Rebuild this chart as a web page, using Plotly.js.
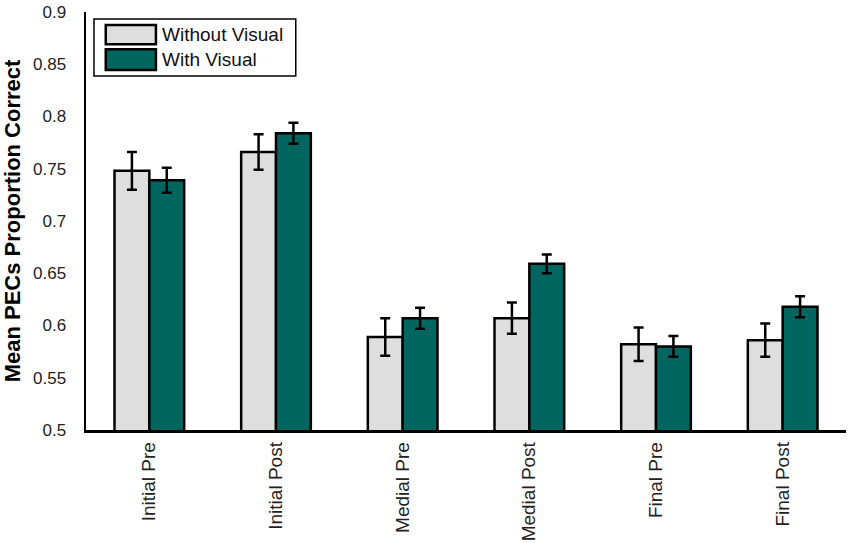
<!DOCTYPE html>
<html>
<head>
<meta charset="utf-8">
<script src="https://cdn.plot.ly/plotly-3.0.1.min.js"></script>
<style>html,body{margin:0;padding:0;background:#fff;}#chart{width:850px;height:543px;}</style>
</head>
<body>
<div id="chart"></div>
<script>
const categories = ["Initial Pre", "Initial Post", "Medial Pre", "Medial Post", "Final Pre", "Final Post"];
const withoutVisual = [0.748, 0.766, 0.589, 0.607, 0.582, 0.586];
const withoutVisualErr = [0.018, 0.017, 0.018, 0.015, 0.016, 0.016];
const withVisual = [0.739, 0.784, 0.607, 0.659, 0.580, 0.618];
const withVisualErr = [0.012, 0.010, 0.010, 0.009, 0.010, 0.010];
const seriesNames = ["Without Visual", "With Visual"];
const yTicks = [0.5, 0.55, 0.6, 0.65, 0.7, 0.75, 0.8, 0.85, 0.9];
const yTickText = ["0.5", "0.55", "0.6", "0.65", "0.7", "0.75", "0.8", "0.85", "0.9"];

const lightColor = "#dedede";
const tealColor = "#00665f";
const sans = "Arial, 'Liberation Sans', sans-serif";

const traces = [
  {
    type: "bar", name: seriesNames[0], x: categories, y: withoutVisual,
    base: 0,
    marker: {color: lightColor, line: {color: "#000", width: 2.5}},
    error_y: {type: "data", array: withoutVisualErr, visible: true, color: "#000", thickness: 2.5, width: 5},
    showlegend: false
  },
  {
    type: "bar", name: seriesNames[1], x: categories, y: withVisual,
    base: 0,
    marker: {color: tealColor, line: {color: "#000", width: 2.5}},
    error_y: {type: "data", array: withVisualErr, visible: true, color: "#000", thickness: 2.5, width: 5},
    showlegend: false
  }
];

const layout = {
  width: 850, height: 543,
  margin: {l: 86, r: 4, t: 12, b: 113},
  paper_bgcolor: "#fff", plot_bgcolor: "#fff",
  barmode: "group", bargap: 0.45, bargroupgap: 0,
  font: {family: sans, color: "#222"},
  xaxis: {
    type: "category", range: [-0.5, 5.5],
    showline: true, linecolor: "#000", linewidth: 2.5,
    ticks: "", tickangle: -90, tickfont: {size: 19, color: "#222", family: sans},
    ticklabelstandoff: 2,
    showgrid: false, zeroline: false, fixedrange: true
  },
  yaxis: {
    range: [0.5, 0.9],
    tickvals: yTicks, ticktext: yTickText,
    showline: true, linecolor: "#000", linewidth: 2.5,
    ticks: "", tickfont: {size: 17, color: "#222", family: sans},
    ticklabelstandoff: 14,
    showgrid: false, zeroline: false,
    title: {text: "<b>Mean PECs Proportion Correct</b>", font: {size: 22, color: "#000", family: sans}, standoff: 12}
  },
  shapes: [
    {type: "rect", xref: "paper", yref: "paper", x0: 0.0105, x1: 0.276, y0: 0.847, y1: 0.983,
     line: {color: "#000", width: 1.5}, fillcolor: "#fff"},
    {type: "rect", xref: "paper", yref: "paper", x0: 0.026, x1: 0.092, y0: 0.923, y1: 0.969,
     line: {color: "#000", width: 2.5}, fillcolor: lightColor},
    {type: "rect", xref: "paper", yref: "paper", x0: 0.026, x1: 0.092, y0: 0.861, y1: 0.911,
     line: {color: "#000", width: 2.5}, fillcolor: tealColor}
  ],
  annotations: [
    {xref: "paper", yref: "paper", x: 0.097, y: 0.946, xanchor: "left", yanchor: "middle",
     text: seriesNames[0], showarrow: false, font: {size: 19, color: "#111"}},
    {xref: "paper", yref: "paper", x: 0.097, y: 0.886, xanchor: "left", yanchor: "middle",
     text: seriesNames[1], showarrow: false, font: {size: 19, color: "#111"}}
  ]
};

Plotly.newPlot("chart", traces, layout, {displayModeBar: false, staticPlot: true});
</script>
</body>
</html>
